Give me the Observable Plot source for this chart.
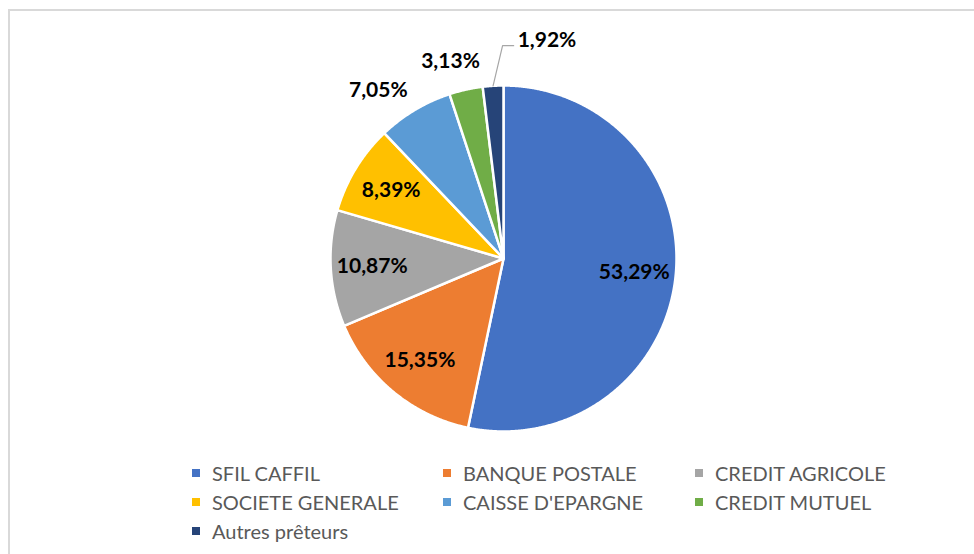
<!DOCTYPE html>
<html>
<head>
<meta charset="utf-8">
<script src="https://cdn.jsdelivr.net/npm/d3@7"></script>
<script src="https://cdn.jsdelivr.net/npm/@observablehq/plot@0.6"></script>
<style>
  html, body { margin: 0; padding: 0; background: #fff; }
  body { width: 974px; height: 554px; overflow: hidden; position: relative; font-family: Lato, "Open Sans", sans-serif; }
  #frame { position: absolute; left: 8px; top: 9px; width: 1100px; height: 700px; border: 2px solid #d9d9d9; box-sizing: border-box; }
  #chart { position: absolute; left: 0; top: 0; }
  #legend { position: absolute; left: 192px; top: 459px; display: grid; grid-template-columns: 251px 252px 252px; grid-auto-rows: 28.7px; }
  .item { display: flex; align-items: center; font-size: 20px; color: #595959; white-space: nowrap; }
  .sw { width: 8px; height: 8px; margin-right: 12px; flex: none; }
</style>
</head>
<body>
<div id="frame"></div>
<div id="chart"></div>
<div id="legend"></div>
<script>
const names = ["SFIL CAFFIL", "BANQUE POSTALE", "CREDIT AGRICOLE", "SOCIETE GENERALE", "CAISSE D'EPARGNE", "CREDIT MUTUEL", "Autres prêteurs"];
const values = [53.29, 15.35, 10.87, 8.39, 7.05, 3.13, 1.92];
const colors = ["#4472C4", "#ED7D31", "#A5A5A5", "#FFC000", "#5B9BD5", "#70AD47", "#264478"];

const fmt = v => v.toFixed(2).replace(".", ",") + "%";
const total = d3.sum(values);

// slices as polygons in unit-radius data space (clockwise from 12 o'clock)
const slicePts = [];
const labelIn = [];
const labelOut = [];
const leader = [];
const leaderText = [];
let cum = 0;
values.forEach((v, i) => {
  const a0 = 2 * Math.PI * cum / total;
  const a1 = 2 * Math.PI * (cum + v) / total;
  cum += v;
  const name = names[i];
  slicePts.push({name, x: 0, y: 0});
  const n = Math.max(2, Math.ceil((a1 - a0) / 0.005));
  for (let k = 0; k <= n; k++) {
    const a = a0 + (a1 - a0) * k / n;
    slicePts.push({name, x: Math.sin(a), y: Math.cos(a)});
  }
  const am = (a0 + a1) / 2;
  if (v >= 8) {
    labelIn.push({x: 0.76 * Math.sin(am), y: 0.76 * Math.cos(am), text: fmt(v)});
  } else if (v >= 2.5) {
    labelOut.push({x: 1.41 * Math.sin(am), y: 1.41 * Math.cos(am), text: fmt(v)});
  } else {
    const ae = am + 0.056;
    const p0 = {x: Math.sin(am), y: Math.cos(am)};
    const p1 = {x: 1.23 * Math.sin(ae), y: 1.23 * Math.cos(ae)};
    const p2 = {x: p1.x + 0.064, y: p1.y};
    leader.push(p0, p1, p2);
    leaderText.push({x: p2.x, y: p2.y, text: fmt(v)});
  }
});

const R = 173, cx = 503, cy = 258;
const chart = Plot.plot({
  width: 974,
  height: 460,
  margin: 0,
  style: {fontFamily: "Lato, 'Open Sans', sans-serif", background: "transparent"},
  x: {domain: [-1, 1], range: [cx - R, cx + R], axis: null},
  y: {domain: [-1, 1], range: [cy + R, cy - R], axis: null},
  color: {domain: names, range: colors},
  marks: [
    Plot.line(slicePts, {x: "x", y: "y", z: "name", fill: "name", stroke: "white", strokeWidth: 2.5, curve: "linear-closed"}),
    Plot.text(labelIn, {x: "x", y: "y", text: "text", fontSize: 21, fontWeight: "bold", fill: "#000"}),
    Plot.text(labelOut, {x: "x", y: "y", text: "text", dy: 41, fontSize: 21, fontWeight: "bold", fill: "#000"}),
    Plot.line(leader, {x: "x", y: "y", stroke: "#a6a6a6", strokeWidth: 1.2}),
    Plot.text(leaderText, {x: "x", y: "y", text: "text", textAnchor: "start", dx: 4, dy: -5, fontSize: 21, fontWeight: "bold", fill: "#000"})
  ]
});
document.getElementById("chart").appendChild(chart);

const legend = document.getElementById("legend");
names.forEach((n, i) => {
  const it = document.createElement("div");
  it.className = "item";
  const sw = document.createElement("span");
  sw.className = "sw";
  sw.style.background = colors[i];
  const tx = document.createElement("span");
  tx.textContent = n;
  it.appendChild(sw);
  it.appendChild(tx);
  legend.appendChild(it);
});
</script>
</body>
</html>
